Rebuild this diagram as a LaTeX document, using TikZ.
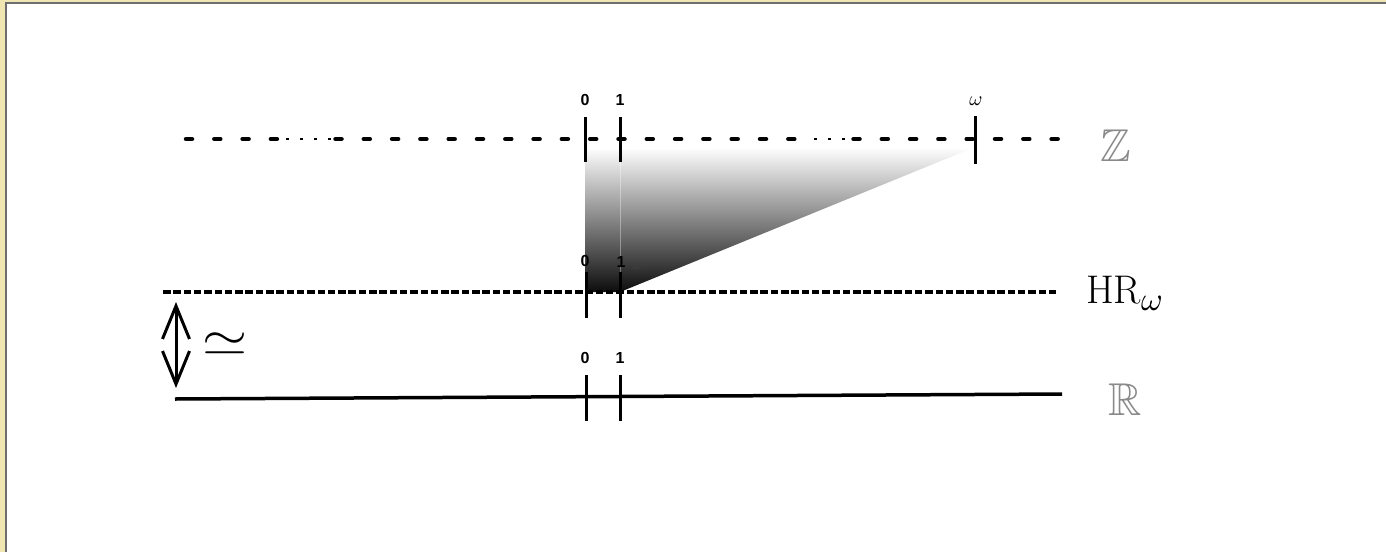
\documentclass[tikz,border=0pt]{standalone}
\usepackage{graphicx}
\usepackage{amssymb}
\usepackage{fontspec}
\usetikzlibrary{arrows.meta}
\newfontfamily\labfont{Liberation Sans}
\definecolor{beige}{HTML}{F0E6B2}
\definecolor{framegray}{HTML}{6E6E6E}
\definecolor{setgray}{HTML}{8A8A8A}
\begin{document}
\begin{tikzpicture}[x=1pt,y=-1pt,
  thickdash/.style={line width=4.5pt, line cap=round, dash pattern=on 6pt off 22.3pt},
  thindash/.style={line width=1.6pt, dash pattern=on 3pt off 11pt},
  hrdash/.style={line width=4pt, dash pattern=on 7.5pt off 2.8pt},
  tickline/.style={line width=3pt},
  numlab/.style={font=\labfont\bfseries\fontsize{16}{16}\selectfont, inner sep=0pt},
  setlab/.style={inner sep=0pt, anchor=base west, text=setgray, font=\fontsize{46}{46}\selectfont},
  dblarrow/.style={line width=3pt, {Straight Barb[length=33pt,width=27pt]}-{Straight Barb[length=33pt,width=27pt]}}]
\useasboundingbox (0,0) rectangle (1386,552);
% background and frame
\fill[beige] (0,0) rectangle (1386,552);
\fill[white] (6,3) rectangle (1386,552);
\draw[framegray, line width=1.5pt] (5.75,552) -- (5.75,2.75) -- (1386,2.75);

% shaded wedge
\coordinate (w0) at (585,150);
\coordinate (wz) at (975,147);
\coordinate (w1) at (620,292);
\coordinate (wb) at (585,292);
\shade[top color=white, bottom color=black!95] (w0) -- (wz) -- (w1) -- (wb) -- cycle;
\coordinate (s1) at (620,160);
\coordinate (s2) at (620,288);
\draw[white, opacity=0.35, line width=1pt] (s1) -- (s2);

% Z line
\coordinate (za) at (186,139);
\coordinate (zb) at (278,139);
\coordinate (zc) at (286,139);
\coordinate (zd) at (334,139);
\coordinate (ze) at (335.5,139);
\coordinate (zf) at (800,139);
\coordinate (zg) at (814,139);
\coordinate (zh) at (852,139);
\coordinate (zi) at (853.5,139);
\coordinate (zj) at (1060,139);
\draw[thickdash] (za) -- (zb);
\draw[thindash] (zc) -- (zd);
\draw[thickdash] (ze) -- (zf);
\draw[thindash] (zg) -- (zh);
\draw[thickdash] (zi) -- (zj);
\coordinate (zt0a) at (585,117); \coordinate (zt0b) at (585,162);
\coordinate (zt1a) at (620,117); \coordinate (zt1b) at (620,162);
\coordinate (ztwa) at (975,116); \coordinate (ztwb) at (975,164);
\draw[tickline] (zt0a) -- (zt0b);
\draw[tickline] (zt1a) -- (zt1b);
\draw[tickline] (ztwa) -- (ztwb);
\node[numlab] (z0) at (585,100) {0};
\node[numlab] (z1) at (620,100) {1};
\node[inner sep=0pt] (zw) at (976,101) {\scalebox{2}{$\omega$}};
\node[setlab] (Z) at (1100,161) {$\mathbb{Z}$};

% HR line
\coordinate (ha) at (163,292);
\coordinate (hb) at (1058,292);
\draw[hrdash] (ha) -- (hb);
\coordinate (ht0a) at (586,272); \coordinate (ht0b) at (586,318);
\coordinate (ht1a) at (620,272); \coordinate (ht1b) at (620,318);
\draw[tickline] (ht0a) -- (ht0b);
\draw[tickline] (ht1a) -- (ht1b);
\node[numlab] (h0) at (585,261) {0};
\node[numlab] (h1) at (621,262) {1};
\node[inner sep=0pt, text=black!75] (hw) at (637,266) {\scalebox{1.4}{$\omega$}};
\node[inner sep=0pt, anchor=base west] (HR) at (1086,303)
  {{\fontsize{40}{40}\selectfont HR}\raisebox{-7pt}{\scalebox{3.3}{$\omega$}}};

% R line
\coordinate (ra) at (175,399);
\coordinate (rb) at (1062,394);
\draw[line width=3.5pt] (ra) -- (rb);
\coordinate (rt0a) at (586,375); \coordinate (rt0b) at (586,421);
\coordinate (rt1a) at (620,375); \coordinate (rt1b) at (620,421);
\draw[tickline] (rt0a) -- (rt0b);
\draw[tickline] (rt1a) -- (rt1b);
\node[numlab] (r0) at (585,358) {0};
\node[numlab] (r1) at (620,358) {1};
\node[setlab] (R) at (1108,415) {$\mathbb{R}$};

% isomorphism arrow
\coordinate (aa) at (176,302);
\coordinate (ab) at (176,388);
\draw[dblarrow] (aa) -- (ab);
\node[inner sep=0pt] (iso) at (225,344) {\scalebox{5.8}[4.9]{$\simeq$}};
\end{tikzpicture}
\end{document}
